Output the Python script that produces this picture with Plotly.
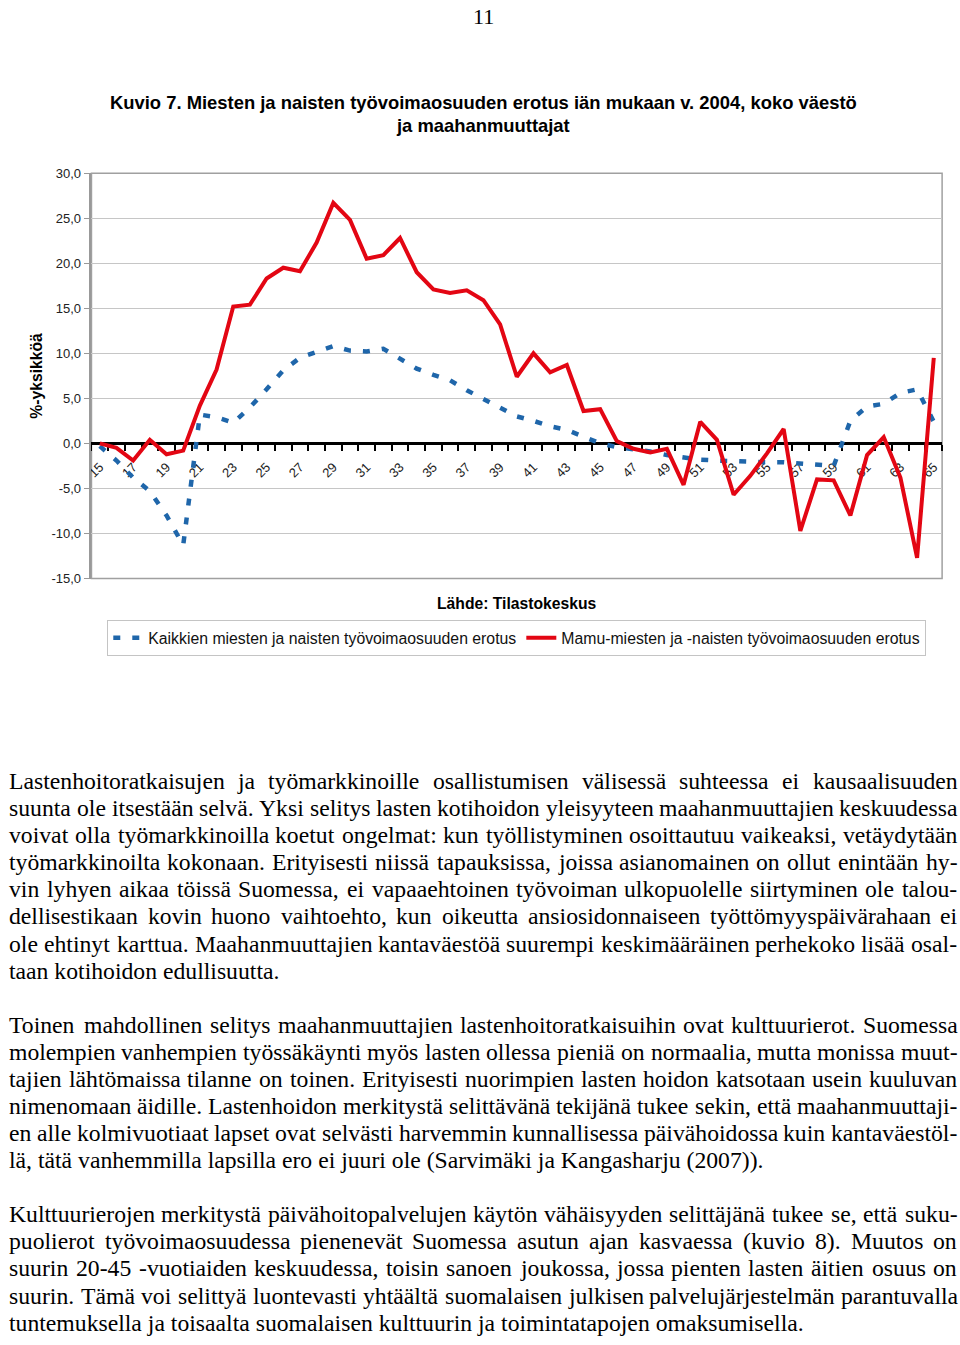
import plotly.graph_objects as go

W, H = 960, 1345

# ---------------- data ----------------
ages = list(range(15, 66))
kaikki = [-0.3, -1.9, -3.8, -5.3, -8.0, -11.3, 3.2, 2.9, 2.3, 4.0,
          6.0, 8.1, 9.5, 10.2, 10.8, 10.3, 10.2, 10.5, 9.4, 8.3,
          7.6, 7.0, 5.9, 4.9, 3.9, 3.0, 2.5, 1.9, 1.5, 0.7,
          0.0, -0.4, -0.6, -0.9, -1.3, -1.6, -1.8, -1.9, -2.0, -2.1,
          -2.1, -2.1, -2.2, -2.3, -2.5, 2.5, 4.1, 4.4, 5.6, 6.0, 2.4]
mamu = [0.0, -0.5, -1.9, 0.4, -1.2, -0.8, 4.2, 8.2, 15.2, 15.4,
        18.3, 19.5, 19.1, 22.3, 26.7, 24.8, 20.5, 20.9, 22.8, 19.0,
        17.1, 16.7, 17.0, 15.9, 13.2, 7.4, 10.0, 7.9, 8.7, 3.6,
        3.8, 0.25, -0.6, -1.0, -0.6, -4.6, 2.4, 0.4, -5.7, -3.6,
        -1.1, 1.6, -9.7, -4.0, -4.1, -8.0, -1.3, 0.7, -3.8, -12.7, 9.5]
xtick_vals = list(range(15, 66, 2))
xtick_text = [str(a) for a in xtick_vals]
ytick_vals = [-15, -10, -5, 0, 5, 10, 15, 20, 25, 30]
ytick_text = ["-15,0", "-10,0", "-5,0", "0,0", "5,0", "10,0", "15,0", "20,0", "25,0", "30,0"]

name_kaikki = "Kaikkien miesten ja naisten työvoimaosuuden erotus"
name_mamu = "Mamu-miesten ja -naisten työvoimaosuuden erotus"
title_lines = ["Kuvio 7. Miesten ja naisten työvoimaosuuden erotus iän mukaan v. 2004, koko väestö",
               "ja maahanmuuttajat"]
source_text = "Lähde: Tilastokeskus"
ytitle = "%-yksikköä"
page_no = "11"

paragraphs = [
    ["Lastenhoitoratkaisujen ja työmarkkinoille osallistumisen välisessä suhteessa ei kausaalisuuden",
     "suunta ole itsestään selvä. Yksi selitys lasten kotihoidon yleisyyteen maahanmuuttajien keskuudessa",
     "voivat olla työmarkkinoilla koetut ongelmat: kun työllistyminen osoittautuu vaikeaksi, vetäydytään",
     "työmarkkinoilta kokonaan. Erityisesti niissä tapauksissa, joissa asianomainen on ollut enintään hy-",
     "vin lyhyen aikaa töissä Suomessa, ei vapaaehtoinen työvoiman ulkopuolelle siirtyminen ole talou-",
     "dellisestikaan kovin huono vaihtoehto, kun oikeutta ansiosidonnaiseen työttömyyspäivärahaan ei",
     "ole ehtinyt karttua. Maahanmuuttajien kantaväestöä suurempi keskimääräinen perhekoko lisää osal-",
     "taan kotihoidon edullisuutta."],
    ["Toinen mahdollinen selitys maahanmuuttajien lastenhoitoratkaisuihin ovat kulttuurierot. Suomessa",
     "molempien vanhempien työssäkäynti myös lasten ollessa pieniä on normaalia, mutta monissa muut-",
     "tajien lähtömaissa tilanne on toinen. Erityisesti nuorimpien lasten hoidon katsotaan usein kuuluvan",
     "nimenomaan äidille. Lastenhoidon merkitystä selittävänä tekijänä tukee sekin, että maahanmuuttaji-",
     "en alle kolmivuotiaat lapset ovat selvästi harvemmin kunnallisessa päivähoidossa kuin kantaväestöl-",
     "lä, tätä vanhemmilla lapsilla ero ei juuri ole (Sarvimäki ja Kangasharju (2007))."],
    ["Kulttuurierojen merkitystä päivähoitopalvelujen käytön vähäisyyden selittäjänä tukee se, että suku-",
     "puolierot työvoimaosuudessa pienenevät Suomessa asutun ajan kasvaessa (kuvio 8). Muutos on",
     "suurin 20-45 -vuotiaiden keskuudessa, toisin sanoen joukossa, jossa pienten lasten äitien osuus on",
     "suurin. Tämä voi selittyä luontevasti yhtäältä suomalaisen julkisen palvelujärjestelmän parantuvalla",
     "tuntemuksella ja toisaalta suomalaisen kulttuurin ja toimintatapojen omaksumisella."],
]
para_top = [783, 1029, 1221]

# ---------------- layout constants ----------------
PX0, PX1 = 86, 942
PY0, PY1 = 168, 578
xdom = [PX0 / W, PX1 / W]
ydom = [1 - PY1 / H, 1 - PY0 / H]
ymin, ymax = -15, 30
xaxis_pos = ydom[0] + (ydom[1] - ydom[0]) * (0 - ymin) / (ymax - ymin)

RED = "#E30613"
BLUE = "#1F66AA"
SANS = "Liberation Sans, Arial, sans-serif"
SERIF = "Liberation Serif, Times New Roman, serif"

fig = go.Figure()
fig.add_trace(go.Scatter(x=ages, y=kaikki, mode="lines", name=name_kaikki,
                         line=dict(color=BLUE, width=4.5, dash="7px,12px")))
fig.add_trace(go.Scatter(x=ages, y=mamu, mode="lines", name=name_mamu,
                         line=dict(color=RED, width=4)))

fig.update_layout(
    width=W, height=H, autosize=False,
    margin=dict(l=0, r=0, t=0, b=0),
    paper_bgcolor="white", plot_bgcolor="white",
    font=dict(family=SANS, color="#222"),
    xaxis=dict(domain=xdom, range=[14.5, 65.5], anchor="free", position=xaxis_pos,
               showline=True, linecolor="black", linewidth=3, layer="below traces",
               tickmode="array", tickvals=xtick_vals, ticktext=xtick_text,
               tickangle=-45, ticks="", showgrid=False, zeroline=False,
               ticklabelstandoff=9,
               tickfont=dict(size=13, family=SANS, color="#222"),
               minor=dict(tickmode="linear", tick0=14.5, dtick=1, ticks="outside",
                          ticklen=6, tickwidth=2, tickcolor="black", showgrid=False)),
    yaxis=dict(domain=ydom, range=[ymin, ymax], anchor="x",
               tickmode="array", tickvals=ytick_vals, ticktext=ytick_text,
               ticks="outside", ticklen=6, tickcolor="#999", tickwidth=1,
               showline=True, linecolor="#999", linewidth=1.5,
               showgrid=True, gridcolor="#c6c6c6", gridwidth=1, zeroline=False,
               tickfont=dict(size=13, family=SANS, color="#222")),
    legend=dict(orientation="h", x=514 / W, xanchor="center", y=1 - 638 / H, yanchor="middle",
                bgcolor="white", bordercolor="#c4c4c4", borderwidth=1,
                font=dict(size=15.8, family=SANS, color="#111"),
                itemwidth=30, tracegroupgap=0),
    showlegend=True,
)

fig.add_shape(type="rect", xref="x domain", yref="y domain", x0=0, x1=1, y0=0, y1=1,
              line=dict(color="#a0a0a0", width=1.5), layer="below")

ann = []
def add_text(text, xpx, ypx, size, family, bold=False, xanchor="center", angle=0, color="black"):
    ann.append(dict(text=("<b>%s</b>" % text) if bold else text, x=xpx / W, y=1 - ypx / H,
                    xref="paper", yref="paper", xanchor=xanchor, yanchor="middle",
                    showarrow=False, textangle=angle, borderpad=0, borderwidth=0,
                    font=dict(size=size, family=family, color=color)))

add_text(page_no, 480, 10, 22, SERIF)
add_text(title_lines[0], 480, 97, 18.4, SANS, bold=True)
add_text(title_lines[1], 480, 120, 18.4, SANS, bold=True)
add_text(source_text, 514, 603, 15.7, SANS, bold=True)
add_text(ytitle, 31, 373, 15.7, SANS, bold=True, angle=-90)

# Times-Roman metrics (1/1000 em) to justify body text
tw = {}
for chars, w in [("ilt:j", 278), ("fr()-", 333), ("s", 389), ("aceäz", 444),
                 ("bdghknopquvxyö0123456789", 500), ("w", 722), ("m", 778),
                 (" .,", 250)]:
    for c in chars:
        tw[c] = w
for chars, w in [("I", 333), ("J", 389), ("FPS", 556), ("ELTZ", 611), ("BCR", 667),
                 ("ADGHKNOQUVXY", 722), ("M", 889), ("W", 944)]:
    for c in chars:
        tw[c] = w

FS = 23.7
def wpx(s):
    return sum(tw.get(c, 500) for c in s) / 1000.0 * FS

LEFT, RIGHT = 3, 957
LINE = 27.35
for p, top in zip(paragraphs, para_top):
    for i, line in enumerate(p):
        y = top + i * LINE
        last = (i == len(p) - 1)
        if last:
            add_text(line, LEFT, y, FS, SERIF, xanchor="left")
            continue
        words = line.split(" ")
        total = sum(wpx(w) for w in words)
        gap = (RIGHT - LEFT - total) / (len(words) - 1)
        x = LEFT
        for w in words:
            add_text(w, x, y, FS, SERIF, xanchor="left")
            x += wpx(w) + gap

fig.update_layout(annotations=ann)
post = ("document.documentElement.style.margin='0';document.documentElement.style.padding='0';"
        "document.body.style.margin='0';document.body.style.padding='0';"
        "document.body.style.overflow='hidden';"
        "var d=document.getElementById('{plot_id}');"
        "d.style.position='absolute';d.style.left='0px';d.style.top='0px';")
fig.write_html("out.html", config={"displayModeBar": False}, post_script=post)
